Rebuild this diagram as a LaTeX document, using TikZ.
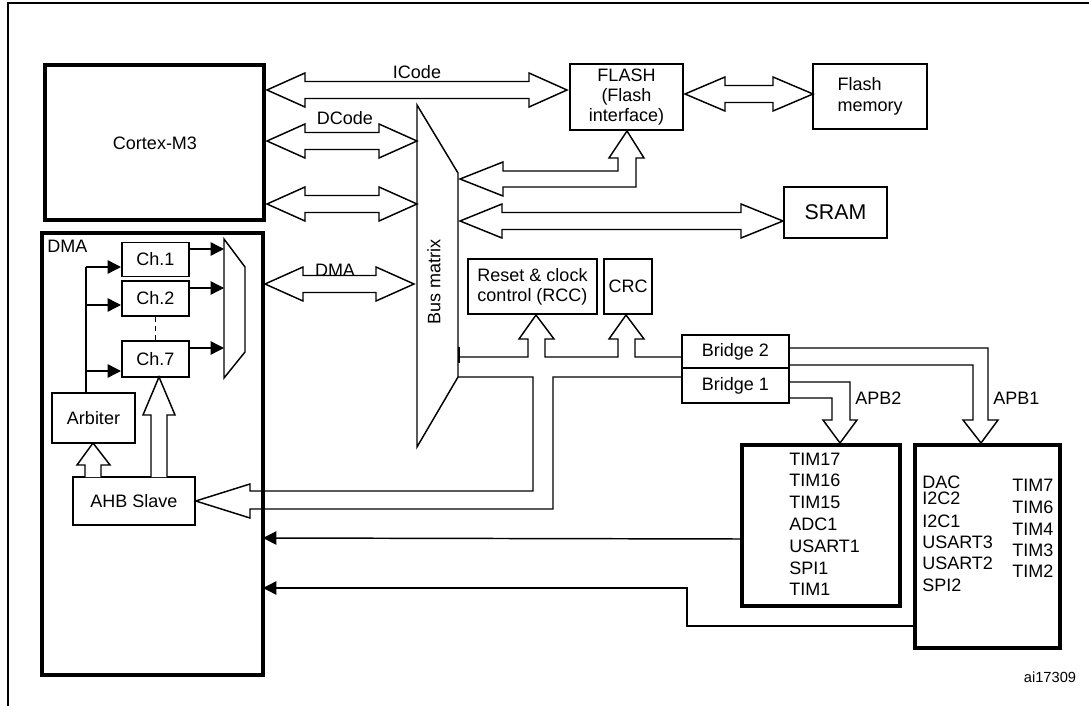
\documentclass[tikz,border=0pt]{standalone}
\usepackage{fontspec}
\setmainfont{Liberation Sans}
\usetikzlibrary{arrows.meta,positioning}

\tikzset{
  box/.style={draw, line width=1.1pt, inner sep=0pt, font=\fontsize{13.5}{16}\selectfont},
  bigbox/.style={draw, line width=3pt},
  bus/.style={draw, line width=1.1pt, fill=white, line join=miter},
  sig/.style={line width=1.1pt, -{Triangle[length=10pt,width=10pt]}},
  lbl/.style={font=\fontsize{13.5}{16}\selectfont, inner sep=0pt}
}
% horizontal hollow double arrow: left tip, right tip, centre y
\newcommand\hbus[4][38]{%
  \draw[bus] (#2,#4) -- (#2+#1,#4-17) -- (#2+#1,#4-8.5) -- (#3-#1,#4-8.5) -- (#3-#1,#4-17)
    -- (#3,#4) -- (#3-#1,#4+17) -- (#3-#1,#4+8.5) -- (#2+#1,#4+8.5) -- (#2+#1,#4+17) -- cycle;}

\begin{document}
\begin{tikzpicture}[x=0.75pt, y=-0.75pt]
\useasboundingbox (0,0) rectangle (1089,706);
\draw[line width=1.1pt] (8,3) rectangle (1100,720);

% CPU and DMA
\draw[bigbox] (45,65) rectangle (264,220);
\node[lbl] (cpu) at (155,143) {Cortex-M3};
\draw[bigbox] (42,233) rectangle (263,675);
\node[lbl, anchor=north west] (dma) at (47,240) {DMA};
\coordinate (dmaR1) at (263,538);
\coordinate (dmaR2) at (263,588);

% channels
\node[box, minimum width=67pt*0.75, minimum height=34pt*0.75] (ch1) at (155.5,259.5) {Ch.1};
\node[box, minimum width=67pt*0.75, minimum height=35pt*0.75] (ch2) at (155.5,298.5) {Ch.2};
\node[box, minimum width=67pt*0.75, minimum height=36pt*0.75] (ch7) at (155.5,359) {Ch.7};
\draw[line width=1.1pt, dash pattern=on 4pt off 3pt] (ch2.south) -- (ch7.north);
\draw[line width=1.1pt, fill=white] (224,239) -- (245,267) -- (245,352) -- (224,378) -- cycle;
\foreach \c/\y in {ch1/249, ch2/288, ch7/348}
  \draw[sig] (\c.east |- 0,\y) -- (224,\y);

\node[box, minimum width=83pt*0.75, minimum height=50pt*0.75] (arb) at (93.5,418) {Arbiter};
\draw[line width=1.1pt] (86,393) -- (86,267);
\foreach \y in {267, 305, 371}
  \draw[sig] (86,\y) -- (121,\y);
\node[box, minimum width=122pt*0.75, minimum height=48pt*0.75] (ahb) at (134,501) {AHB Slave};
\draw[bus] (85,477) -- (85,465) -- (77,465) -- (93,443) -- (110,465) -- (101,465) -- (101,477);
\draw[bus] (151,477) -- (151,415) -- (143,415) -- (159,377) -- (175,415) -- (167,415) -- (167,477);

% bus matrix
\draw[line width=1.1pt] (417,105) -- (458,173) -- (458,377) -- (417,447) -- cycle;
\node[lbl, rotate=90] (bm) at (434,282) {Bus matrix};

% buses from the core
\hbus{267}{567}{90}
\node[lbl] at (417,72) {ICode};
\hbus{267}{417}{141}
\node[lbl] at (345,118) {DCode};
\hbus{267}{417}{204}
\hbus{265}{414}{284}
\node[lbl] at (335,270) {DMA};

% flash
\node[box, minimum width=113pt*0.75, minimum height=66pt*0.75, align=center,
  font=\fontsize{13.5}{14.7}\selectfont] (flash) at (626.5,97) {FLASH\\(Flash\\interface)};
\node[box, minimum width=114pt*0.75, minimum height=65pt*0.75, align=left] (fmem) at (870,96.5)
  {Flash\\memory};
\hbus[40]{685}{813}{94}
\draw[bus] (460,179) -- (503,162) -- (503,171) -- (618,171) -- (618,158) -- (609,158)
  -- (627,131) -- (644,158) -- (636,158) -- (636,187) -- (503,187) -- (503,196) -- cycle;

% sram
\node[box, line width=2pt, minimum width=103pt*0.75, minimum height=51pt*0.75,
  font=\fontsize{16}{18}\selectfont] (sram) at (835.5,212.5) {SRAM};
\hbus[42]{460}{783}{221}

% rcc, crc, bridges
\node[box, minimum width=129pt*0.75, minimum height=55pt*0.75, align=left,
  font=\fontsize{13.5}{15}\selectfont] (rcc) at (532.5,286.5) {Reset \& clock\\control (RCC)};
\node[box, minimum width=48pt*0.75, minimum height=55pt*0.75] (crc) at (628,286.5) {CRC};
\node[box, minimum width=107pt*0.75, minimum height=33pt*0.75] (br2) at (735.5,351.5) {Bridge 2};
\node[box, minimum width=107pt*0.75, minimum height=35pt*0.75] (br1) at (735.5,385.5) {Bridge 1};
\draw[line width=1.1pt] (459,347) -- (459,363);
\draw[line width=1.1pt, line join=miter] (458,357) -- (528,357) -- (528,339) -- (519,339) -- (536,315)
  -- (554,339) -- (545,339) -- (545,357) -- (618,357) -- (618,339) -- (609,339) -- (626,315)
  -- (644,339) -- (635,339) -- (635,357) -- (br2.west |- 0,357);
\draw[line width=1.1pt, line join=miter] (458,377) -- (533,377) -- (533,491) -- (250,491) -- (250,484)
  -- (ahb.east) -- (250,518) -- (250,509) -- (553,509) -- (553,377) -- (br1.west |- 0,377);

% apb buses
\draw[line width=1.1pt, line join=miter] (br2.east |- 0,348) -- (988,348) -- (988,420) -- (998,420)
  -- (981,443) -- (963,420) -- (973,420) -- (973,365) -- (br2.east |- 0,365);
\draw[line width=1.1pt, line join=miter] (br1.east |- 0,382) -- (850,382) -- (850,420) -- (857,420)
  -- (840,443) -- (823,420) -- (832,420) -- (832,398) -- (br1.east |- 0,398);
\node[lbl, anchor=west] at (855,398) {APB2};
\node[lbl, anchor=west] at (993,398) {APB1};

% peripherals
\draw[bigbox] (742,445) rectangle (900,606);
\coordinate (apb2L) at (742,539);
\foreach \t [count=\i] in {TIM17,TIM16,TIM15,ADC1,USART1,SPI1,TIM1}
  \node[lbl, anchor=west] at (789,459+21.8*\i-21.8) {\t};
\draw[bigbox] (915,445) rectangle (1060,648);
\coordinate (apb1L) at (915,626);
\foreach \t/\y in {DAC/482,I2C2/498,I2C1/521,USART3/542,USART2/563,SPI2/585}
  \node[lbl, anchor=west] at (922,\y) {\t};
\foreach \t/\y in {TIM7/485,TIM6/507,TIM4/529,TIM3/550,TIM2/571}
  \node[lbl, anchor=west] at (1012,\y) {\t};

\draw[sig] (apb2L) -- (dmaR1);
\draw[sig] (apb1L) -- (687,626) -- (687,588) -- (dmaR2);

\node[font=\fontsize{11}{13}\selectfont, inner sep=0pt] at (1050,677) {ai17309};
\end{tikzpicture}
\end{document}
